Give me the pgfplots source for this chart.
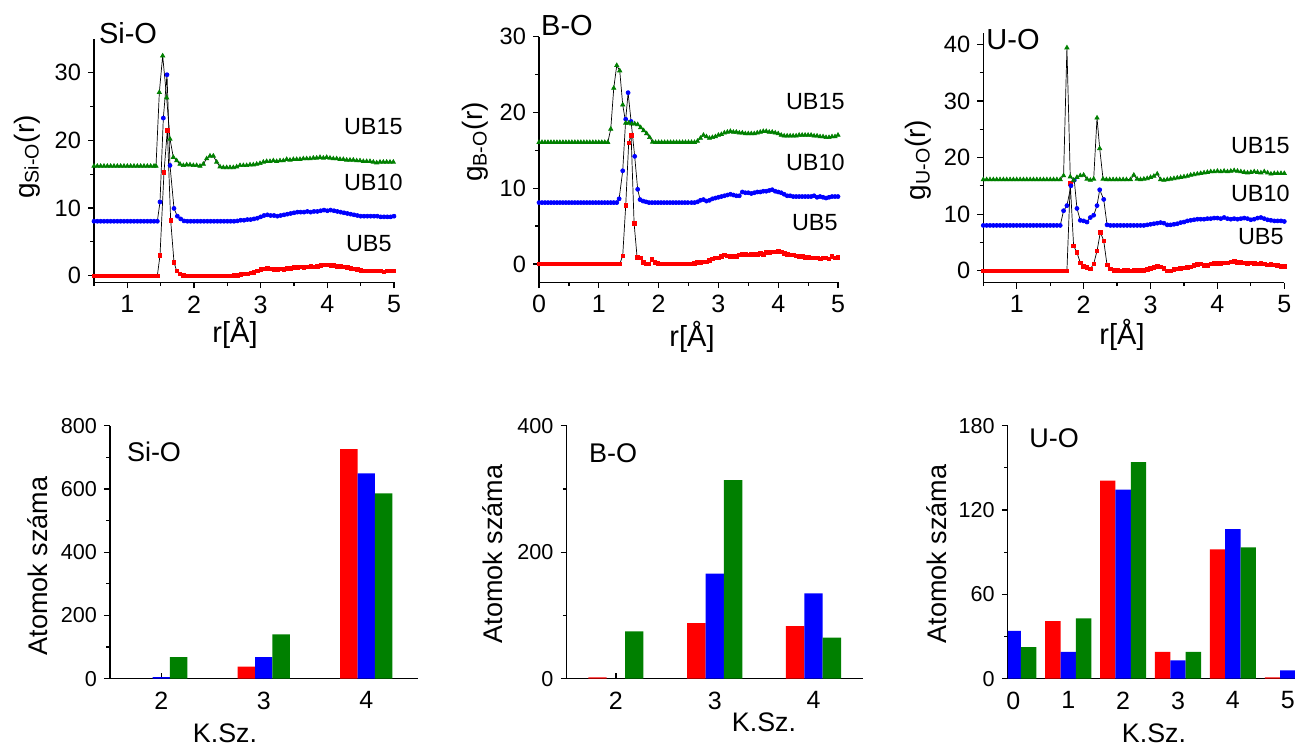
\documentclass[border=0pt]{standalone}
\usepackage{fontspec}
\setmainfont{Liberation Sans}
\usepackage{pgfplots}
\pgfplotsset{compat=1.18}
\definecolor{ored}{RGB}{255,0,0}
\definecolor{oblue}{RGB}{0,0,255}
\definecolor{ogreen}{RGB}{0,128,0}
\pgfplotsset{
  origin/.style={scale only axis, anchor=south west,
    axis lines=left, axis line style={-, line width=0.6pt},
    tick style={black, line width=0.6pt}, tick align=outside,
    major tick length=3pt, minor tick length=1.8pt,
    /pgf/number format/assume math mode=true,
    xticklabel style={font=\fontsize{12.5}{13}\selectfont},
    yticklabel style={font=\fontsize{11.8}{12}\selectfont},
  },
  gr/.style={origin, clip=false, xtick={0,1,2,3,4,5}, minor xtick={0.5,1.5,2.5,3.5,4.5}},
  bars/.style={origin, ybar=0pt, xtick pos=bottom,
    yticklabel style={font=\fontsize{10.8}{11}\selectfont},
    x tick style={yshift=2.8pt}, },
  s5/.style={black, line width=0.35pt, mark=square*, mark size=0.9pt, mark options={ored}},
  s10/.style={black, line width=0.35pt, mark=*, mark size=1pt, mark options={oblue}},
  s15/.style={black, line width=0.35pt, mark=triangle*, mark size=1.2pt, mark options={ogreen}},
}
\begin{document}
\begin{tikzpicture}
\useasboundingbox (0,0) rectangle (647.5pt,-373.5pt);

% ---------- Si-O g(r)
\begin{axis}[gr, at={(47pt,-141.25pt)}, width=150pt, height=121.8pt,
  xmin=0.5, xmax=5, ymin=-1, ymax=35, ytick={0,10,20,30}, minor ytick={5,15,25}]
\addplot[s5] coordinates {(0.50,0)(0.55,0)(0.60,0)(0.65,0)(0.70,0)(0.75,0)(0.80,0)(0.85,0)(0.90,0)(0.95,0)(1.00,0)(1.05,0)(1.10,0)(1.15,0)(1.20,0)(1.25,0)(1.30,0)(1.35,0)(1.40,0)(1.45,0)(1.49,3.0)(1.55,15.3)(1.60,21.5)(1.65,8.2)(1.70,2.0)(1.74,0.7)(1.79,0.3)(1.84,0.1)(1.90,0)(1.95,0)(2.00,0)(2.05,0)(2.10,0)(2.15,0)(2.20,0)(2.25,0)(2.30,0)(2.35,0)(2.40,0)(2.45,0)(2.50,0)(2.55,0)(2.60,0.05)(2.65,0.1)(2.70,0.2)(2.75,0.3)(2.80,0.3)(2.85,0.4)(2.90,0.5)(2.95,0.7)(3.00,0.9)(3.05,1.0)(3.10,1.1)(3.15,1.0)(3.20,0.9)(3.25,0.9)(3.30,1.0)(3.35,0.9)(3.40,1.1)(3.45,1.1)(3.50,1.2)(3.55,1.2)(3.60,1.3)(3.65,1.2)(3.70,1.3)(3.75,1.4)(3.80,1.3)(3.85,1.4)(3.90,1.5)(3.95,1.6)(4.00,1.6)(4.05,1.5)(4.10,1.5)(4.15,1.4)(4.20,1.4)(4.25,1.3)(4.30,1.2)(4.35,1.1)(4.40,1.0)(4.45,0.9)(4.50,0.8)(4.55,0.7)(4.60,0.7)(4.65,0.7)(4.70,0.7)(4.75,0.7)(4.80,0.7)(4.85,0.6)(4.90,0.7)(4.95,0.7)(5.00,0.7)};
\addplot[s10] coordinates {(0.50,8.05)(0.55,8.05)(0.60,8.05)(0.65,8.05)(0.70,8.05)(0.75,8.05)(0.80,8.05)(0.85,8.05)(0.90,8.05)(0.95,8.05)(1.00,8.05)(1.05,8.05)(1.10,8.05)(1.15,8.05)(1.20,8.05)(1.25,8.05)(1.30,8.05)(1.35,8.05)(1.40,8.05)(1.45,8.05)(1.49,10.9)(1.54,23.3)(1.595,29.7)(1.64,16.3)(1.70,9.95)(1.75,8.8)(1.80,8.4)(1.85,8.1)(1.90,8.05)(1.95,8.05)(2.00,8.05)(2.05,8.05)(2.10,8.05)(2.15,8.05)(2.20,8.05)(2.25,8.05)(2.30,8.05)(2.35,8.05)(2.40,8.05)(2.45,8.05)(2.50,8.05)(2.55,8.05)(2.60,8.05)(2.65,8.1)(2.70,8.2)(2.75,8.2)(2.80,8.3)(2.85,8.3)(2.90,8.4)(2.95,8.5)(3.00,8.7)(3.05,8.9)(3.10,9.0)(3.15,8.9)(3.20,8.9)(3.25,8.8)(3.30,8.9)(3.35,9.0)(3.40,9.1)(3.45,9.2)(3.50,9.3)(3.55,9.4)(3.60,9.4)(3.65,9.4)(3.70,9.5)(3.75,9.4)(3.80,9.5)(3.85,9.5)(3.90,9.6)(3.95,9.7)(4.00,9.6)(4.05,9.7)(4.10,9.6)(4.15,9.5)(4.20,9.4)(4.25,9.3)(4.30,9.2)(4.35,9.1)(4.40,9.0)(4.45,8.9)(4.50,8.8)(4.55,8.8)(4.60,8.8)(4.65,8.8)(4.70,8.8)(4.75,8.8)(4.80,8.7)(4.85,8.7)(4.90,8.7)(4.95,8.7)(5.00,8.8)};
\addplot[s15] coordinates {(0.50,16.2)(0.55,16.2)(0.60,16.2)(0.65,16.2)(0.70,16.2)(0.75,16.2)(0.80,16.2)(0.85,16.2)(0.90,16.2)(0.95,16.2)(1.00,16.2)(1.05,16.2)(1.10,16.2)(1.15,16.2)(1.20,16.2)(1.25,16.2)(1.30,16.2)(1.35,16.2)(1.40,16.2)(1.43,16.2)(1.48,27.1)(1.53,32.5)(1.59,26.3)(1.64,20.2)(1.69,17.5)(1.74,17.0)(1.79,16.5)(1.84,16.3)(1.89,16.4)(1.94,16.4)(1.99,16.3)(2.04,16.3)(2.09,16.2)(2.14,16.5)(2.19,17.3)(2.24,17.7)(2.29,17.7)(2.34,16.8)(2.39,16.1)(2.44,16.0)(2.49,16.0)(2.54,16.0)(2.59,16.0)(2.64,16.1)(2.69,16.3)(2.74,16.3)(2.79,16.3)(2.84,16.4)(2.89,16.4)(2.94,16.5)(2.99,16.6)(3.04,16.8)(3.09,16.9)(3.14,16.9)(3.19,17.0)(3.24,16.9)(3.29,17.0)(3.34,17.0)(3.39,17.2)(3.44,17.1)(3.49,17.2)(3.54,17.2)(3.59,17.2)(3.64,17.3)(3.69,17.3)(3.74,17.3)(3.79,17.4)(3.84,17.4)(3.89,17.5)(3.94,17.4)(3.99,17.5)(4.04,17.4)(4.09,17.3)(4.14,17.3)(4.19,17.2)(4.24,17.2)(4.29,17.1)(4.34,17.1)(4.39,17.1)(4.44,17.0)(4.49,17.0)(4.54,16.9)(4.59,16.9)(4.64,16.9)(4.69,16.8)(4.74,16.7)(4.79,16.8)(4.84,16.8)(4.89,16.8)(4.94,16.8)(4.99,16.8)};
\end{axis}

% ---------- B-O g(r)
\begin{axis}[gr, at={(269.5pt,-141.1pt)}, width=149.5pt, height=122.8pt,
  xmin=0, xmax=5, ymin=-2.4, ymax=30, ytick={0,10,20,30}, minor ytick={5,15,25}]
\addplot[s5] coordinates {(0.00,0)(0.05,0)(0.10,0)(0.15,0)(0.20,0)(0.25,0)(0.30,0)(0.35,0)(0.40,0)(0.45,0)(0.50,0)(0.55,0)(0.60,0)(0.65,0)(0.70,0)(0.75,0)(0.80,0)(0.85,0)(0.90,0)(0.95,0)(1.00,0)(1.05,0)(1.10,0)(1.15,0)(1.20,0)(1.25,0)(1.30,0)(1.35,0)(1.40,1.1)(1.45,7.7)(1.50,16.0)(1.54,17.0)(1.59,5.4)(1.64,0.9)(1.69,0.8)(1.74,0.2)(1.79,0.0)(1.84,0.0)(1.89,0.6)(1.94,0.2)(1.99,0.1)(2.04,0)(2.09,0)(2.14,0)(2.19,0)(2.24,0)(2.29,0)(2.34,0)(2.39,0)(2.44,0)(2.49,0)(2.55,0)(2.60,0.1)(2.65,0.2)(2.70,0.2)(2.75,0.3)(2.80,0.3)(2.85,0.5)(2.90,0.7)(2.95,0.8)(3.00,0.8)(3.05,1.0)(3.10,1.2)(3.15,1.1)(3.20,1.0)(3.25,1.0)(3.30,1.0)(3.35,1.2)(3.40,1.3)(3.45,1.3)(3.50,1.2)(3.55,1.3)(3.60,1.3)(3.65,1.3)(3.70,1.4)(3.75,1.3)(3.80,1.5)(3.85,1.5)(3.90,1.6)(3.95,1.6)(4.00,1.7)(4.05,1.6)(4.10,1.4)(4.15,1.3)(4.20,1.2)(4.25,1.2)(4.30,1.1)(4.35,1.0)(4.40,1.0)(4.45,0.9)(4.50,0.9)(4.55,0.8)(4.60,0.8)(4.65,0.8)(4.70,0.7)(4.75,0.8)(4.80,0.8)(4.85,0.7)(4.90,1.0)(4.95,0.8)(5.00,0.9)};
\addplot[s10] coordinates {(0.00,8.1)(0.05,8.1)(0.10,8.1)(0.15,8.1)(0.20,8.1)(0.25,8.1)(0.30,8.1)(0.35,8.1)(0.40,8.1)(0.45,8.1)(0.50,8.1)(0.55,8.1)(0.60,8.1)(0.65,8.1)(0.70,8.1)(0.75,8.1)(0.80,8.1)(0.85,8.1)(0.90,8.1)(0.95,8.1)(1.00,8.1)(1.05,8.1)(1.10,8.1)(1.15,8.1)(1.20,8.1)(1.25,8.1)(1.30,8.1)(1.34,8.6)(1.40,12.3)(1.45,19.1)(1.49,22.6)(1.54,18.8)(1.60,14.2)(1.65,9.85)(1.69,8.5)(1.74,8.3)(1.79,8.2)(1.84,8.1)(1.89,8.1)(1.94,8.1)(1.99,8.1)(2.04,8.1)(2.09,8.1)(2.14,8.1)(2.19,8.1)(2.24,8.1)(2.29,8.1)(2.34,8.1)(2.39,8.1)(2.44,8.1)(2.49,8.1)(2.55,8.1)(2.60,8.1)(2.65,8.2)(2.70,8.4)(2.75,8.5)(2.80,8.3)(2.85,8.4)(2.90,8.6)(2.95,8.7)(3.00,8.8)(3.05,8.9)(3.10,9.0)(3.15,9.1)(3.20,9.2)(3.25,9.1)(3.30,9.0)(3.35,9.0)(3.40,9.5)(3.45,9.4)(3.50,9.4)(3.55,9.3)(3.60,9.4)(3.65,9.5)(3.70,9.5)(3.75,9.6)(3.80,9.6)(3.85,9.7)(3.90,9.8)(3.95,9.6)(4.00,9.5)(4.05,9.4)(4.10,9.2)(4.15,9.0)(4.20,9.0)(4.25,8.9)(4.30,8.9)(4.35,8.9)(4.40,8.9)(4.45,8.9)(4.50,8.9)(4.55,8.9)(4.60,9.0)(4.65,8.8)(4.70,8.9)(4.75,8.8)(4.80,8.7)(4.85,8.8)(4.90,8.9)(4.95,8.9)(5.00,8.9)};
\addplot[s15] coordinates {(0.00,16.05)(0.05,16.05)(0.10,16.05)(0.15,16.05)(0.20,16.05)(0.25,16.05)(0.30,16.05)(0.35,16.05)(0.40,16.05)(0.45,16.05)(0.50,16.05)(0.55,16.05)(0.60,16.05)(0.65,16.05)(0.70,16.05)(0.75,16.05)(0.80,16.05)(0.85,16.05)(0.90,16.05)(0.95,16.05)(1.00,16.05)(1.05,16.05)(1.10,16.05)(1.15,16.05)(1.20,17.8)(1.25,23.2)(1.30,26.2)(1.35,25.5)(1.40,21.0)(1.45,18.6)(1.50,18.6)(1.55,18.5)(1.60,18.5)(1.65,18.4)(1.70,18.0)(1.75,17.6)(1.80,17.2)(1.85,16.7)(1.90,16.1)(1.95,16.05)(2.00,16.05)(2.05,16.05)(2.10,16.05)(2.15,16.05)(2.20,16.05)(2.25,16.05)(2.30,16.05)(2.35,16.05)(2.40,16.05)(2.45,16.05)(2.50,16.05)(2.55,16.05)(2.60,16.05)(2.65,16.2)(2.70,16.6)(2.75,17.0)(2.80,16.8)(2.85,16.6)(2.90,16.7)(2.95,16.8)(3.00,17.0)(3.05,17.1)(3.10,17.3)(3.15,17.4)(3.20,17.5)(3.25,17.4)(3.30,17.4)(3.35,17.3)(3.40,17.3)(3.45,17.2)(3.50,17.2)(3.55,17.2)(3.60,17.2)(3.65,17.3)(3.70,17.4)(3.75,17.5)(3.80,17.5)(3.85,17.4)(3.90,17.4)(3.95,17.3)(4.00,17.2)(4.05,17.0)(4.10,16.9)(4.15,16.9)(4.20,16.9)(4.25,16.9)(4.30,16.9)(4.35,17.0)(4.40,17.0)(4.45,17.0)(4.50,17.0)(4.55,17.0)(4.60,16.9)(4.65,16.9)(4.70,16.8)(4.75,16.8)(4.80,16.7)(4.85,16.7)(4.90,16.8)(4.95,16.8)(5.00,17.0)};
\end{axis}

% ---------- U-O g(r)
\begin{axis}[gr, at={(491.65pt,-141.3pt)}, width=150.5pt, height=124.8pt,
  xmin=0.5, xmax=5, ymin=-2.1, ymax=42, ytick={0,10,20,30,40}, minor ytick={5,15,25,35}]
\addplot[s5] coordinates {(0.50,0)(0.55,0)(0.60,0)(0.65,0)(0.70,0)(0.75,0)(0.80,0)(0.85,0)(0.90,0)(0.95,0)(1.00,0)(1.05,0)(1.10,0)(1.15,0)(1.20,0)(1.25,0)(1.30,0)(1.35,0)(1.40,0)(1.45,0)(1.50,0)(1.55,0)(1.60,0)(1.65,0)(1.70,0)(1.75,0)(1.80,15.4)(1.85,4.4)(1.90,3.2)(1.95,1.4)(2.00,0.8)(2.05,0.6)(2.10,0.3)(2.15,1.2)(2.20,3.5)(2.25,6.8)(2.30,5.3)(2.35,1.0)(2.40,0.3)(2.45,0.1)(2.50,0.1)(2.55,0.0)(2.60,0.1)(2.65,0.1)(2.70,0.0)(2.75,0.1)(2.80,0.1)(2.85,0.1)(2.90,0.1)(2.95,0.2)(3.00,0.4)(3.05,0.6)(3.10,0.8)(3.15,0.7)(3.20,0.4)(3.25,0.0)(3.30,0.0)(3.35,0.2)(3.40,0.3)(3.45,0.4)(3.50,0.5)(3.55,0.6)(3.60,0.7)(3.65,0.9)(3.70,1.1)(3.75,1.2)(3.80,0.9)(3.85,0.9)(3.90,1.2)(3.95,1.3)(4.00,1.3)(4.05,1.3)(4.10,1.4)(4.15,1.4)(4.20,1.6)(4.25,1.7)(4.30,1.5)(4.35,1.5)(4.40,1.4)(4.45,1.3)(4.50,1.4)(4.55,1.3)(4.60,1.2)(4.65,1.3)(4.70,1.2)(4.75,1.0)(4.80,1.1)(4.85,1.0)(4.90,0.9)(4.95,0.8)(5.00,0.8)};
\addplot[s10] coordinates {(0.50,8.0)(0.55,8.0)(0.60,8.0)(0.65,8.0)(0.70,8.0)(0.75,8.0)(0.80,8.0)(0.85,8.0)(0.90,8.0)(0.95,8.0)(1.00,8.0)(1.05,8.0)(1.10,8.0)(1.15,8.0)(1.20,8.0)(1.25,8.0)(1.30,8.0)(1.35,8.0)(1.40,8.0)(1.45,8.0)(1.50,8.0)(1.55,8.0)(1.60,8.0)(1.65,8.0)(1.70,10.6)(1.75,11.5)(1.81,15.0)(1.86,16.0)(1.90,11.0)(1.95,8.9)(2.00,8.8)(2.05,8.6)(2.10,9.4)(2.15,9.8)(2.20,11.5)(2.24,14.3)(2.30,12.6)(2.35,8.1)(2.40,8.0)(2.45,8.0)(2.50,8.0)(2.55,8.0)(2.60,8.0)(2.65,8.0)(2.70,8.0)(2.75,8.0)(2.80,8.0)(2.85,8.0)(2.90,8.0)(2.95,8.1)(3.00,8.2)(3.05,8.3)(3.10,8.4)(3.15,8.5)(3.20,8.4)(3.25,8.1)(3.30,8.1)(3.35,8.2)(3.40,8.3)(3.45,8.5)(3.50,8.6)(3.55,8.8)(3.60,8.9)(3.65,9.0)(3.70,9.1)(3.75,9.1)(3.80,9.1)(3.85,9.2)(3.90,9.2)(3.95,9.3)(4.00,9.3)(4.05,9.2)(4.10,9.4)(4.15,9.2)(4.20,9.1)(4.25,9.2)(4.30,9.1)(4.35,9.2)(4.40,9.3)(4.45,9.2)(4.50,9.0)(4.55,9.1)(4.60,9.3)(4.65,9.4)(4.70,9.2)(4.75,9.0)(4.80,8.9)(4.85,8.8)(4.90,8.8)(4.95,8.8)(5.00,8.7)};
\addplot[s15] coordinates {(0.50,16.1)(0.55,16.1)(0.60,16.1)(0.65,16.1)(0.70,16.1)(0.75,16.1)(0.80,16.1)(0.85,16.1)(0.90,16.1)(0.95,16.1)(1.00,16.1)(1.05,16.1)(1.10,16.1)(1.15,16.1)(1.20,16.1)(1.25,16.1)(1.30,16.1)(1.35,16.1)(1.40,16.1)(1.45,16.1)(1.50,16.1)(1.55,16.1)(1.60,16.1)(1.65,16.1)(1.70,16.8)(1.75,39.4)(1.80,16.6)(1.85,16.0)(1.90,16.5)(1.95,16.8)(2.00,16.9)(2.05,16.2)(2.10,16.0)(2.15,16.2)(2.20,27.0)(2.24,21.6)(2.29,16.2)(2.34,16.1)(2.39,16.1)(2.44,16.1)(2.49,16.1)(2.54,16.1)(2.59,16.1)(2.64,16.1)(2.70,16.1)(2.75,16.9)(2.80,16.2)(2.85,16.1)(2.90,16.2)(2.95,16.3)(3.00,16.5)(3.05,16.7)(3.10,17.1)(3.15,16.1)(3.20,16.0)(3.25,16.1)(3.30,16.2)(3.35,16.3)(3.40,16.4)(3.45,16.5)(3.50,16.6)(3.55,16.7)(3.60,16.9)(3.65,17.0)(3.70,17.1)(3.75,17.2)(3.80,17.3)(3.85,17.4)(3.90,17.5)(3.95,17.5)(4.00,17.6)(4.05,17.5)(4.10,17.6)(4.15,17.5)(4.20,17.6)(4.25,17.7)(4.30,17.6)(4.35,17.5)(4.40,17.4)(4.45,17.3)(4.50,17.4)(4.55,17.5)(4.60,17.4)(4.65,17.3)(4.70,17.5)(4.75,17.3)(4.80,17.1)(4.85,17.2)(4.90,17.2)(4.95,17.2)(5.00,17.2)};
\end{axis}

% ---------- coordination numbers
\begin{axis}[bars, at={(55pt,-339.35pt)}, width=153.75pt, height=126.5pt, bar width=0.17,
  xmin=1.5, xmax=4.5, ymin=0, ymax=800, xtick={2,3,4},
  ytick={0,200,400,600,800}, minor ytick={100,300,500,700}]
\addplot[fill=ored, draw=none] coordinates {(3,38)(4,726)};
\addplot[fill=oblue, draw=none] coordinates {(2,5)(3,68)(4,649)};
\addplot[fill=ogreen, draw=none] coordinates {(2,68)(3,140)(4,586)};
\end{axis}

\begin{axis}[bars, at={(283.25pt,-339.35pt)}, width=148.2pt, height=126.5pt, bar width=0.186,
  xmin=1.5, xmax=4.5, ymin=0, ymax=400, xtick={2,3,4},
  ytick={0,200,400}, minor ytick={100,300}]
\addplot[fill=ored, draw=none] coordinates {(2,2)(3,88)(4,83)};
\addplot[fill=oblue, draw=none] coordinates {(3,166)(4,135)};
\addplot[fill=ogreen, draw=none] coordinates {(2,75)(3,314)(4,65)};
\end{axis}

\begin{axis}[bars, at={(503.9pt,-339.35pt)}, width=148.25pt, height=126.5pt, bar width=0.28,
  xmin=-0.1, xmax=5.3, ymin=0, ymax=180, xtick={0,1,2,3,4,5},
  ytick={0,60,120,180}, minor ytick={30,90,150}]
\addplot[fill=ored, draw=none] coordinates {(1,41)(2,141)(3,19)(4,92)(5,1)};
\addplot[fill=oblue, draw=none] coordinates {(0,34)(1,19)(2,134.5)(3,13)(4,106.5)(5,6)};
\addplot[fill=ogreen, draw=none] coordinates {(0,22.5)(1,43)(2,154)(3,19)(4,93.5)};
\end{axis}

% ---------- texts
\begin{scope}[every node/.style={inner sep=0pt}]
\node[font=\fontsize{14.5}{15}\selectfont] at (64pt,-16.5pt) {Si-O};
\node[font=\fontsize{14.5}{15}\selectfont] at (283.5pt,-13pt) {B-O};
\node[font=\fontsize{14.5}{15}\selectfont] at (506.5pt,-20pt) {U-O};
\node[font=\fontsize{13.5}{14}\selectfont] at (77pt,-226pt) {Si-O};
\node[font=\fontsize{13.5}{14}\selectfont] at (306.5pt,-226.5pt) {B-O};
\node[font=\fontsize{13.5}{14}\selectfont] at (527pt,-219pt) {U-O};

\node[font=\fontsize{11.7}{12}\selectfont, anchor=east] at (201.5pt,-63.5pt) {UB15};
\node[font=\fontsize{11.7}{12}\selectfont, anchor=east] at (201.5pt,-91pt) {UB10};
\node[font=\fontsize{11.7}{12}\selectfont, anchor=east] at (196pt,-122pt) {UB5};
\node[font=\fontsize{11.7}{12}\selectfont, anchor=east] at (422.5pt,-51pt) {UB15};
\node[font=\fontsize{11.7}{12}\selectfont, anchor=east] at (422.5pt,-81pt) {UB10};
\node[font=\fontsize{11.7}{12}\selectfont, anchor=east] at (419pt,-111.5pt) {UB5};
\node[font=\fontsize{11.7}{12}\selectfont, anchor=east] at (645pt,-73pt) {UB15};
\node[font=\fontsize{11.7}{12}\selectfont, anchor=east] at (645pt,-96.5pt) {UB10};
\node[font=\fontsize{11.7}{12}\selectfont, anchor=east] at (642pt,-118.5pt) {UB5};

\node[font=\fontsize{14}{15}\selectfont, rotate=90] at (13.5pt,-78.5pt) {g\textsubscript{Si-O}(r)};
\node[font=\fontsize{14}{15}\selectfont, rotate=90] at (237.5pt,-71pt) {g\textsubscript{B-O}(r)};
\node[font=\fontsize{14}{15}\selectfont, rotate=90] at (459pt,-80pt) {g\textsubscript{U-O}(r)};
\node[font=\fontsize{14.5}{15}\selectfont] at (117.5pt,-166.5pt) {r[Å]};
\node[font=\fontsize{14.5}{15}\selectfont] at (346pt,-168.5pt) {r[Å]};
\node[font=\fontsize{14.5}{15}\selectfont] at (561pt,-167.5pt) {r[Å]};

\node[font=\fontsize{13.5}{14}\selectfont, rotate=90] at (19pt,-283pt) {Atomok száma};
\node[font=\fontsize{13.5}{14}\selectfont, rotate=90] at (246.5pt,-277pt) {Atomok száma};
\node[font=\fontsize{13.5}{14}\selectfont, rotate=90] at (468.5pt,-277pt) {Atomok száma};
\node[font=\fontsize{13.4}{14}\selectfont] at (112.5pt,-366.5pt) {K.Sz.};
\node[font=\fontsize{13.4}{14}\selectfont] at (382pt,-361pt) {K.Sz.};
\node[font=\fontsize{13.4}{14}\selectfont] at (577pt,-366.5pt) {K.Sz.};
\end{scope}
\end{tikzpicture}
\end{document}
